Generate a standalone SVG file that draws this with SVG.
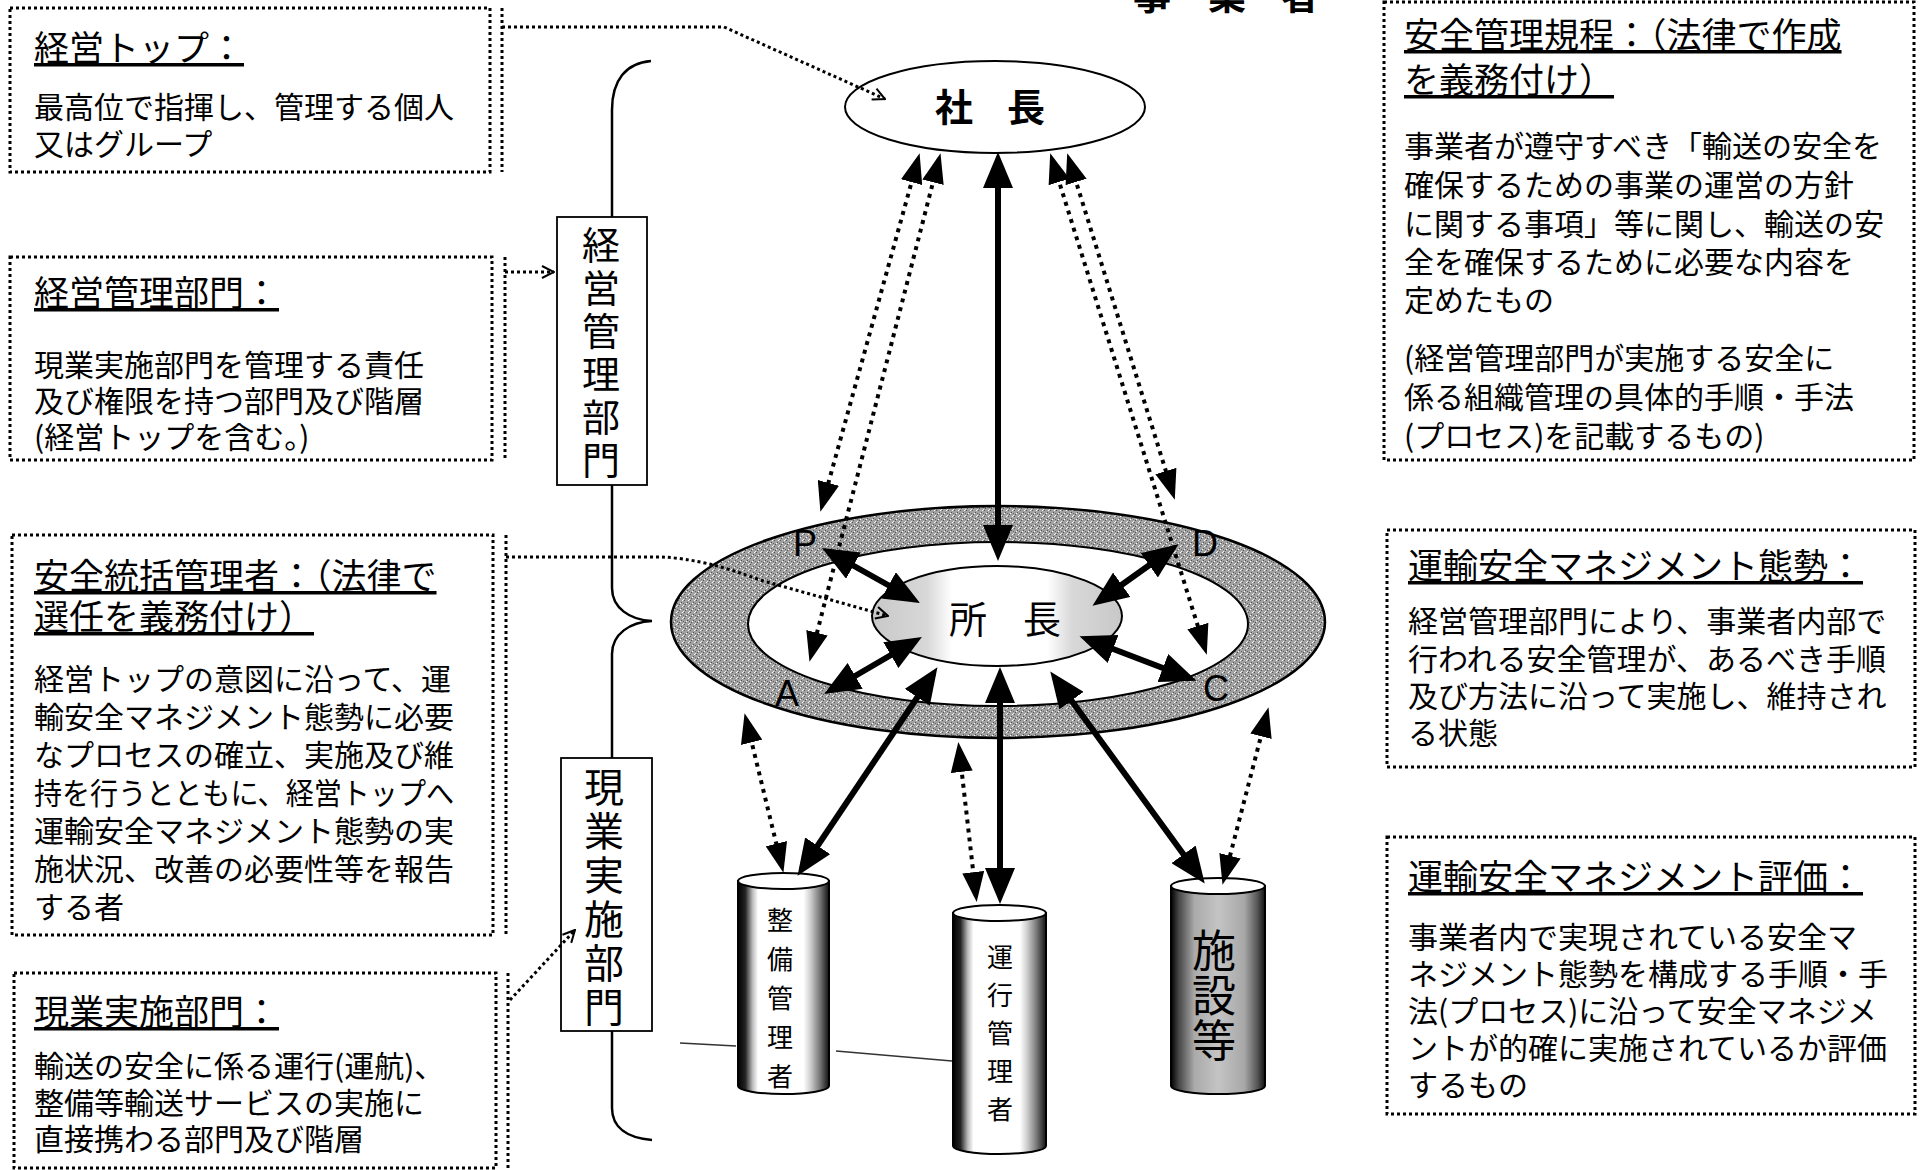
<svg xmlns="http://www.w3.org/2000/svg" width="1920" height="1170" viewBox="0 0 1920 1170">
<style>
text{font-family:"Noto Sans CJK JP","Noto Sans",sans-serif;fill:#000}
.body{font-size:30px}
.ttl{font-size:35px;text-decoration:underline}
.box{fill:#fff;stroke:#000;stroke-width:3;stroke-dasharray:3 3}
.vdot{fill:none;stroke:#000;stroke-width:3;stroke-dasharray:3 3}
.call{fill:none;stroke:#000;stroke-width:3;stroke-dasharray:3 3;marker-end:url(#open)}
.thick{stroke:#000;stroke-width:6;fill:none;marker-start:url(#ah);marker-end:url(#ah)}
.dot{stroke:#000;stroke-width:4;stroke-dasharray:4 5;fill:none;marker-start:url(#ahd);marker-end:url(#ahd)}
.lbl{fill:#fff;stroke:#000;stroke-width:1.8}
.vert{writing-mode:vertical-rl}
.pdca{font-family:"Liberation Sans",Arial,sans-serif;font-size:36px}
</style>
<defs>
<marker id="ah" viewBox="0 0 36 30" markerWidth="36" markerHeight="30" refX="28" refY="15" orient="auto-start-reverse" markerUnits="userSpaceOnUse"><path d="M0,0 L36,15 L0,30 Z" fill="#000"/></marker>
<marker id="ahd" viewBox="0 0 30 22" markerWidth="30" markerHeight="22" refX="24" refY="11" orient="auto-start-reverse" markerUnits="userSpaceOnUse"><path d="M0,0 L30,11 L0,22 Z" fill="#000"/></marker>
<marker id="open" viewBox="0 0 14 14" markerWidth="14" markerHeight="14" refX="13" refY="7" orient="auto" markerUnits="userSpaceOnUse"><path d="M1,1 L13,7 L1,13" fill="none" stroke="#000" stroke-width="2"/></marker>
<pattern id="stip" width="6" height="6" patternUnits="userSpaceOnUse">
<rect width="6" height="6" fill="#a2a2a2"/>
<rect x="0" y="0" width="1" height="1" fill="#555"/><rect x="3" y="2" width="1" height="1" fill="#555"/><rect x="1" y="4" width="1" height="1" fill="#555"/><rect x="5" y="3" width="1" height="1" fill="#666"/>
<rect x="4" y="0" width="1" height="1" fill="#fff"/><rect x="2" y="3" width="1" height="1" fill="#fff"/><rect x="5" y="5" width="1" height="1" fill="#eee"/>
</pattern>
<linearGradient id="shoG" x1="0" y1="0" x2="1" y2="0">
<stop offset="0" stop-color="#c8c8c8"/><stop offset="0.22" stop-color="#d8d8d8"/><stop offset="0.32" stop-color="#fff"/><stop offset="0.7" stop-color="#fff"/><stop offset="0.8" stop-color="#d8d8d8"/><stop offset="1" stop-color="#c8c8c8"/>
</linearGradient>
<linearGradient id="cylW" x1="0" y1="0" x2="1" y2="0">
<stop offset="0" stop-color="#000"/><stop offset="0.08" stop-color="#222"/><stop offset="0.16" stop-color="#bbb"/><stop offset="0.22" stop-color="#fff"/><stop offset="0.72" stop-color="#fff"/><stop offset="0.8" stop-color="#ccc"/><stop offset="0.9" stop-color="#777"/><stop offset="1" stop-color="#111"/>
</linearGradient>
<linearGradient id="cylG" x1="0" y1="0" x2="1" y2="0">
<stop offset="0" stop-color="#000"/><stop offset="0.08" stop-color="#444"/><stop offset="0.25" stop-color="#aaa"/><stop offset="0.5" stop-color="#c4c4c4"/><stop offset="0.78" stop-color="#a8a8a8"/><stop offset="0.92" stop-color="#555"/><stop offset="1" stop-color="#111"/>
</linearGradient>
</defs>
<rect width="1920" height="1170" fill="#fff"/>

<g id="jigyosha">
<text x="1152" y="9" font-size="38" font-weight="bold" text-anchor="middle">事</text>
<text x="1227" y="9" font-size="38" font-weight="bold" text-anchor="middle">業</text>
<text x="1300" y="9" font-size="38" font-weight="bold" text-anchor="middle">者</text>
</g>

<!-- brace -->
<path id="brace" d="M651,61 C626,63 612,80 612,110 L612,588 C612,608 630,620 652,621 C630,622 612,634 612,654 L612,1108 C612,1128 628,1138 652,1140" fill="none" stroke="#000" stroke-width="2.5"/>

<g id="lbl-keiei">
<rect class="lbl" x="557" y="217" width="90" height="268"/>
<text class="vert" x="601" y="226" font-size="38" letter-spacing="5">経営管理部門</text>
</g>
<g id="lbl-genba">
<rect class="lbl" x="561" y="758" width="91" height="273"/>
<text class="vert" x="604" y="767" font-size="40" letter-spacing="4">現業実施部門</text>
</g>

<!-- left boxes -->
<g id="box-top">
<rect class="box" x="10" y="8" width="480" height="164"/>
<path class="vdot" d="M502,8 V172"/>
<text class="ttl" x="34" y="61">経営トップ：</text>
<text class="body" x="34" y="118">最高位で指揮し、管理する個人</text>
<text class="body" x="34" y="155">又はグループ</text>
</g>
<g id="box-keiei">
<rect class="box" x="10" y="257" width="482" height="203"/>
<path class="vdot" d="M505,257 V460"/>
<text class="ttl" x="34" y="306">経営管理部門：</text>
<text class="body" x="34" y="376">現業実施部門を管理する責任</text>
<text class="body" x="34" y="412">及び権限を持つ部門及び階層</text>
<text class="body" x="34" y="448">(経営トップを含む。)</text>
</g>
<g id="box-tokatsu">
<rect class="box" x="12" y="535" width="481" height="400"/>
<path class="vdot" d="M506,535 V935"/>
<text class="ttl" x="34" y="589">安全統括管理者：（法律で</text>
<text class="ttl" x="34" y="630">選任を義務付け）</text>
<text class="body" x="34" y="690">経営トップの意図に沿って、運</text>
<text class="body" x="34" y="728">輸安全マネジメント態勢に必要</text>
<text class="body" x="34" y="766">なプロセスの確立、実施及び維</text>
<text class="body" x="34" y="804" textLength="420" lengthAdjust="spacingAndGlyphs">持を行うとともに、経営トップへ</text>
<text class="body" x="34" y="842">運輸安全マネジメント態勢の実</text>
<text class="body" x="34" y="880">施状況、改善の必要性等を報告</text>
<text class="body" x="34" y="918">する者</text>
</g>
<g id="box-genba">
<rect class="box" x="14" y="973" width="482" height="195"/>
<path class="vdot" d="M508,973 V1168"/>
<text class="ttl" x="34" y="1025">現業実施部門：</text>
<text class="body" x="34" y="1077">輸送の安全に係る運行(運航)、</text>
<text class="body" x="34" y="1114">整備等輸送サービスの実施に</text>
<text class="body" x="34" y="1150">直接携わる部門及び階層</text>
</g>

<!-- right boxes -->
<g id="box-kitei">
<rect class="box" x="1384" y="2" width="530" height="458"/>
<text class="ttl" x="1404" y="48">安全管理規程：（法律で作成</text>
<text class="ttl" x="1404" y="93">を義務付け）</text>
<text class="body" x="1404" y="157">事業者が遵守すべき「輸送の安全を</text>
<text class="body" x="1404" y="196">確保するための事業の運営の方針</text>
<text class="body" x="1404" y="235">に関する事項」等に関し、輸送の安</text>
<text class="body" x="1404" y="273">全を確保するために必要な内容を</text>
<text class="body" x="1404" y="311">定めたもの</text>
<text class="body" x="1404" y="369">(経営管理部門が実施する安全に</text>
<text class="body" x="1404" y="408">係る組織管理の具体的手順・手法</text>
<text class="body" x="1404" y="447">(プロセス)を記載するもの)</text>
</g>
<g id="box-taisei">
<rect class="box" x="1387" y="530" width="528" height="237"/>
<text class="ttl" x="1408" y="579">運輸安全マネジメント態勢：</text>
<text class="body" x="1408" y="632">経営管理部門により、事業者内部で</text>
<text class="body" x="1408" y="670">行われる安全管理が、あるべき手順</text>
<text class="body" x="1408" y="707">及び方法に沿って実施し、維持され</text>
<text class="body" x="1408" y="744">る状態</text>
</g>
<g id="box-hyoka">
<rect class="box" x="1387" y="837" width="528" height="277"/>
<text class="ttl" x="1408" y="890">運輸安全マネジメント評価：</text>
<text class="body" x="1408" y="948">事業者内で実現されている安全マ</text>
<text class="body" x="1408" y="985">ネジメント態勢を構成する手順・手</text>
<text class="body" x="1408" y="1022">法(プロセス)に沿って安全マネジメ</text>
<text class="body" x="1408" y="1059">ントが的確に実施されているか評価</text>
<text class="body" x="1408" y="1096">するもの</text>
</g>

<!-- central nodes -->
<g id="shacho">
<ellipse cx="995" cy="107" rx="150" ry="46" fill="#fff" stroke="#000" stroke-width="2"/>
<text x="954" y="121" font-size="38" font-weight="bold" text-anchor="middle">社</text>
<text x="1026" y="121" font-size="38" font-weight="bold" text-anchor="middle">長</text>
</g>
<g id="ring">
<ellipse cx="998" cy="622" rx="327" ry="116" fill="url(#stip)" stroke="#000" stroke-width="2.5"/>
<ellipse cx="998" cy="624" rx="250" ry="82" fill="#fff" stroke="#000" stroke-width="2"/>
<text class="pdca" x="805" y="556" text-anchor="middle">P</text>
<text class="pdca" x="1205" y="556" text-anchor="middle">D</text>
<text class="pdca" x="787" y="706" text-anchor="middle">A</text>
<text class="pdca" x="1216" y="701" text-anchor="middle">C</text>
</g>
<g id="shocho">
<ellipse cx="997" cy="616" rx="125" ry="50" fill="url(#shoG)" stroke="#000" stroke-width="2"/>
<text x="968" y="633" font-size="38" text-anchor="middle">所</text>
<text x="1042" y="633" font-size="38" text-anchor="middle">長</text>
</g>
<g id="cyl-seibi">
<path d="M738,881 L738,1086 A45.5,8 0 0 0 829,1086 L829,881 Z" fill="url(#cylW)" stroke="#000" stroke-width="2"/>
<ellipse cx="783.5" cy="881" rx="45.5" ry="8" fill="#fff" stroke="#000" stroke-width="2"/>
<text class="vert" x="780" y="907" font-size="26" letter-spacing="13">整備管理者</text>
</g>
<g id="cyl-unko">
<path d="M953,913 L953,1146 A46.5,8 0 0 0 1046,1146 L1046,913 Z" fill="url(#cylW)" stroke="#000" stroke-width="2"/>
<ellipse cx="999.5" cy="913" rx="46.5" ry="8" fill="#fff" stroke="#000" stroke-width="2"/>
<text class="vert" x="1000" y="944" font-size="26" letter-spacing="12">運行管理者</text>
</g>
<g id="cyl-shisetsu">
<path d="M1171,886 L1171,1086 A47,8 0 0 0 1265,1086 L1265,886 Z" fill="url(#cylG)" stroke="#000" stroke-width="2"/>
<ellipse cx="1218" cy="886" rx="47" ry="8" fill="#fff" stroke="#000" stroke-width="2"/>
<text class="vert" x="1214" y="928" font-size="44" letter-spacing="1">施設等</text>
</g>

<path d="M680,1043 L736,1046 M836,1051 L952,1061" stroke="#333" stroke-width="1.5" fill="none"/>

<!-- connectors -->
<g id="connectors">
<path class="thick" d="M998,160 L998,553"/>
<path class="thick" d="M829,552 L913,599"/>
<path class="thick" d="M1172,549 L1099,601"/>
<path class="thick" d="M831,690 L915,641"/>
<path class="thick" d="M1189,678 L1087,639"/>
<path class="thick" d="M933,674 L802,869"/>
<path class="thick" d="M1000,675 L1000,896"/>
<path class="thick" d="M1055,678 L1200,877"/>
<path class="dot" d="M918,159 L822,506"/>
<path class="dot" d="M939,159 L811,656"/>
<path class="dot" d="M1052,159 L1205,649"/>
<path class="dot" d="M1069,159 L1173,494"/>
<path class="dot" d="M746,719 L782,867"/>
<path class="dot" d="M959,748 L976,896"/>
<path class="dot" d="M1267,713 L1224,879"/>
<path class="call" d="M502,27 L724,27 L885,99"/>
<path class="call" d="M505,272 L554,272"/>
<path class="call" d="M506,557 L662,557 Q705,559 760,580 L888,616"/>
<path class="call" d="M510,1000 L575,930"/>
</g>
</svg>
